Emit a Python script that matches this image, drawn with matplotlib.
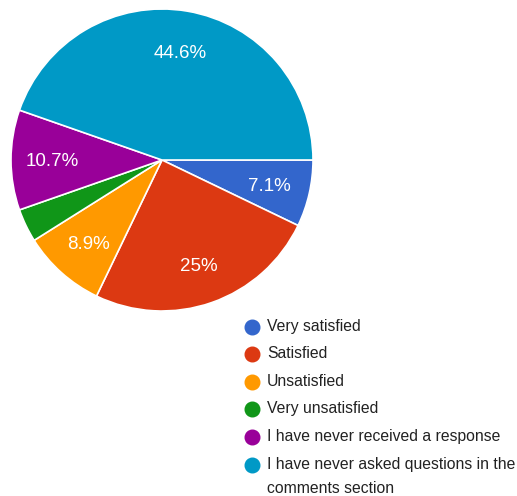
import matplotlib
matplotlib.use("Agg")
import matplotlib.pyplot as plt

labels = [
    "Very satisfied",
    "Satisfied",
    "Unsatisfied",
    "Very unsatisfied",
    "I have never received a response",
    "I have never asked questions in the\ncomments section",
]
responses = [4, 14, 5, 2, 6, 25]
colors = ["#3366CC", "#DC3912", "#FF9900", "#109618", "#990099", "#0099C6"]

plt.rcParams["font.family"] = ["Liberation Sans", "DejaVu Sans"]

W, H = 517, 496
fig = plt.figure(figsize=(W / 100, H / 100), dpi=100)

# pie area in pixel terms: centre and radius
cx, cy, r = 162, 160, 151
ax = fig.add_axes([(cx - r) / W, (H - cy - r) / H, 2 * r / W, 2 * r / H])


def pct_label(p):
    if p < 5:
        return ""
    return f"{p:.1f}%".replace(".0%", "%")


wedges, texts, autotexts = ax.pie(
    responses,
    colors=colors,
    startangle=0,
    counterclock=False,
    autopct=pct_label,
    pctdistance=0.73,
    radius=1.0,
    wedgeprops=dict(edgecolor="white", linewidth=1.2),
    textprops=dict(color="white", fontsize=13.5),
)
for t in autotexts:
    t.set_va("center_baseline")
ax.set_xlim(-1, 1)
ax.set_ylim(-1, 1)
ax.set_aspect("equal")

# legend drawn in figure pixel coordinates
lax = fig.add_axes([0, 0, 1, 1])
lax.set_xlim(0, W)
lax.set_ylim(H, 0)
lax.axis("off")
row_y = [327, 354, 382, 409, 437, 465]
for lab, col, y in zip(labels, colors, row_y):
    lax.plot(252, y, "o", color=col, markersize=10.5)
    lax.text(267, y - 8, lab, fontsize=11.3, color="#222222",
             va="top", ha="left", linespacing=1.75)

fig.savefig("out.png", dpi=100, facecolor="white")
